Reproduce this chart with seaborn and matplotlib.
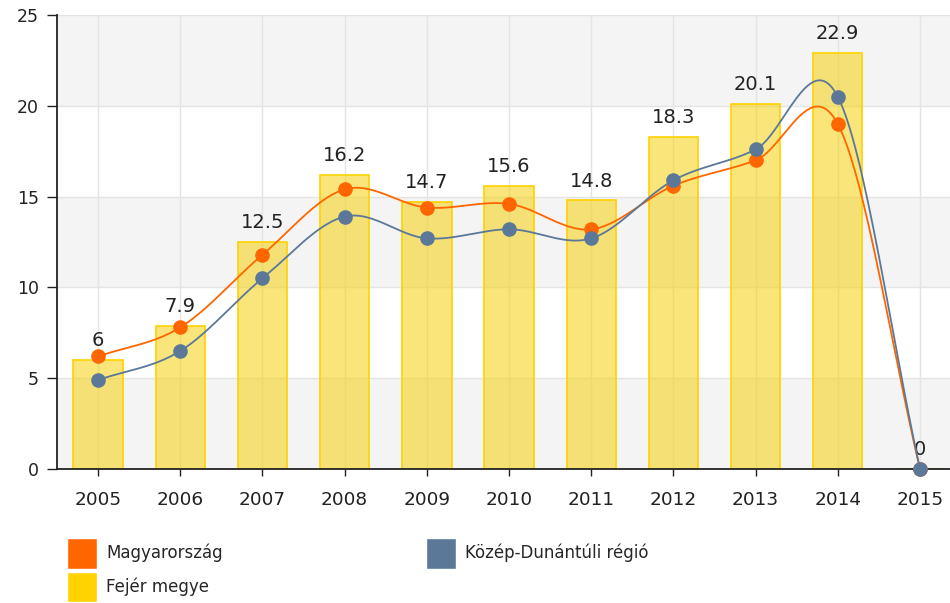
import numpy as np
import pandas as pd
import seaborn as sns
import matplotlib.pyplot as plt
from matplotlib.patches import Patch

# data
years = ['2005', '2006', '2007', '2008', '2009', '2010', '2011', '2012', '2013', '2014', '2015']
fejer = [6, 7.9, 12.5, 16.2, 14.7, 15.6, 14.8, 18.3, 20.1, 22.9, 0]
magyar = [6.2, 7.8, 11.8, 15.4, 14.4, 14.6, 13.2, 15.6, 17.0, 19.0, 0]
kozep = [4.9, 6.5, 10.5, 13.9, 12.7, 13.2, 12.7, 15.9, 17.6, 20.5, 0]

ORANGE = '#ff6600'
BLUE = '#5b7898'
YELLOW = '#ffd200'


# Catmull-Rom style smoothing for the line series
def smooth(vals, n=30):
    y = np.asarray(vals, dtype=float)
    x = np.arange(len(y), dtype=float)
    m = np.gradient(y)
    xs, ys = [], []
    for i in range(len(y) - 1):
        t = np.linspace(0, 1, n, endpoint=False)
        h00 = 2 * t**3 - 3 * t**2 + 1
        h10 = t**3 - 2 * t**2 + t
        h01 = -2 * t**3 + 3 * t**2
        h11 = t**3 - t**2
        xs.append(x[i] + t)
        ys.append(h00 * y[i] + h10 * m[i] + h01 * y[i + 1] + h11 * m[i + 1])
    xs.append([x[-1]])
    ys.append([y[-1]])
    return np.concatenate(xs), np.concatenate(ys)


sns.set_theme(style='white')
plt.rcParams['font.family'] = ['DejaVu Sans']

df = pd.DataFrame({'year': years, 'fejer': fejer})

fig = plt.figure(figsize=(9.5, 6.03), dpi=100)
ax = fig.add_axes([0.06, 0.2222, 0.94, 0.7529])

# alternating bands + grid
for lo in range(0, 25, 10):
    ax.axhspan(lo, lo + 5, color='#f4f4f4', zorder=0, lw=0)
for v in range(5, 26, 5):
    ax.axhline(v, color='#e4e4e4', lw=1, zorder=0.5)
for i in range(len(years)):
    ax.axvline(i, color='#e4e4e4', lw=1, zorder=0.5)

sns.barplot(data=df, x='year', y='fejer', ax=ax, width=0.6,
            color=(0.96, 0.82, 0.05, 0.55), edgecolor=YELLOW, linewidth=1.2,
            saturation=1, zorder=2)
ax.bar_label(ax.containers[0], labels=[f'{v:g}' for v in fejer],
             padding=7, fontsize=14, color='#222222')

xo, yo = smooth(magyar)
xk, yk = smooth(kozep)
ax.plot(xo, yo, color=ORANGE, lw=1.3, zorder=3)
ax.plot(xk, yk, color=BLUE, lw=1.3, zorder=3)
ax.plot(range(len(years)), magyar, 'o', color=ORANGE, ms=9.5, zorder=4, clip_on=False)
ax.plot(range(len(years)), kozep, 'o', color=BLUE, ms=9.5, zorder=5, clip_on=False)

ax.set_xlim(-0.5, 10.365)
ax.set_ylim(0, 25)
ax.set_yticks(range(0, 26, 5))
ax.set_xlabel('')
ax.set_ylabel('')
ax.grid(False)
for s in ['top', 'right']:
    ax.spines[s].set_visible(False)
for s in ['left', 'bottom']:
    ax.spines[s].set_color('#222222')
    ax.spines[s].set_linewidth(1.3)
ax.tick_params(axis='y', length=7, width=1, color='#222222', labelsize=12.5,
               labelcolor='#222222', pad=6, left=True)
ax.tick_params(axis='x', length=5, width=1, color='#222222', labelsize=13.3,
               labelcolor='#222222', pad=11, bottom=True)

handles = [Patch(facecolor=ORANGE, label='Magyarország'),
           Patch(facecolor=YELLOW, label='Fejér megye'),
           Patch(facecolor=BLUE, label='Közép-Dunántúli régió')]
fig.legend(handles=handles, loc='upper left', bbox_to_anchor=(0.0705, 0.108),
           ncol=2, frameon=False, fontsize=12, handlelength=1.8, handleheight=2.45,
           handletextpad=0.55, columnspacing=12.2, labelspacing=0.2,
           borderpad=0, borderaxespad=0)

fig.savefig('out.png', dpi=100)
